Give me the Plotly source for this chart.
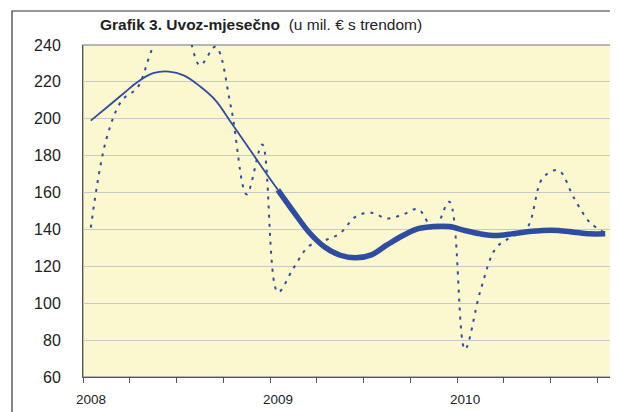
import plotly.graph_objects as go

# Months Jan 2008 .. Oct 2010 (34 monthly categories)
month_labels = [
    "2008-01", "2008-02", "2008-03", "2008-04", "2008-05", "2008-06",
    "2008-07", "2008-08", "2008-09", "2008-10", "2008-11", "2008-12",
    "2009-01", "2009-02", "2009-03", "2009-04", "2009-05", "2009-06",
    "2009-07", "2009-08", "2009-09", "2009-10", "2009-11", "2009-12",
    "2010-01", "2010-02", "2010-03", "2010-04", "2010-05", "2010-06",
    "2010-07", "2010-08", "2010-09", "2010-10",
]

# Monthly imports (mil. EUR), dotted series
imports = [141, 189, 210, 217, 239, 252, 250, 229, 239, 206, 159, 186,
           106, 119, 131, 134, 138, 147, 149, 146, 148, 151, 140, 155,
           75, 107, 130, 136, 141, 168, 172, 157, 144, 138]

# Trend, 2008 part (thin line) Jan 2008 .. Jan 2009
trend_2008 = [199, 206, 213, 220, 224.7, 225.6, 223.4, 217.6, 210, 198, 185.8, 173.5, 161.5]
# Trend, from Jan 2009 (thick line) Jan 2009 .. Oct 2010
trend_later = [161.5, 149.7, 138.5, 130.5, 126, 124.6, 126.2, 131.6, 136.6, 140.4, 141.6,
               141.6, 139.4, 137.6, 136.7, 137.6, 138.7, 139.4, 139.4, 138.5, 137.6, 137.6]

year_labels = {"2008-01": "2008", "2009-01": "2009", "2010-01": "2010"}

n = len(month_labels)
x_all = list(range(n))
x_thin = x_all[:len(trend_2008)]
x_thick = x_all[n - len(trend_later):]

# ticks on category boundaries every 3 months
tick_pos = [i - 0.5 for i in range(0, n, 3)]
tick_txt = [year_labels.get(month_labels[i], "") for i in range(0, n, 3)]

blue = "#2F4DA0"
font_family = "Liberation Sans, Arial, sans-serif"

# page body has an 8px margin, so the figure is sized to fill the rest
W, H = 610, 404
L, R, T, B = 75, 5, 37, 30
pw, ph = W - L - R, H - T - B

fig = go.Figure()
fig.add_trace(go.Scatter(
    x=x_all, y=imports, mode="lines",
    line=dict(color=blue, width=2, dash="3px,6px", shape="spline", smoothing=1),
    hoverinfo="skip", showlegend=False))
fig.add_trace(go.Scatter(
    x=x_thin, y=trend_2008, mode="lines",
    line=dict(color=blue, width=1.8, shape="spline", smoothing=1),
    showlegend=False))
fig.add_trace(go.Scatter(
    x=x_thick, y=trend_later, mode="lines",
    line=dict(color=blue, width=5.5, shape="spline", smoothing=1),
    showlegend=False))

fig.update_layout(
    width=W, height=H,
    margin=dict(l=L, r=R, t=T, b=B),
    paper_bgcolor="white",
    plot_bgcolor="#FBF7CF",
    font=dict(family=font_family, color="#222222"),
    title=dict(
        text="<b>Grafik 3. Uvoz-mjesečno</b>&nbsp;&nbsp;(u mil. € s trendom)",
        x=92 / W, xanchor="left", xref="container",
        y=1 - 17 / H, yanchor="middle", yref="container",
        font=dict(size=15.5, family=font_family, color="#222222"),
    ),
    xaxis=dict(
        range=[-0.5, n - 0.5],
        tickmode="array", tickvals=tick_pos, ticktext=tick_txt,
        ticks="outside", ticklen=5, tickcolor="#555555", tickwidth=1,
        ticklabelshift=8, ticklabelstandoff=5,
        tickfont=dict(size=13.5, family=font_family, color="#222222"),
        showgrid=False, zeroline=False,
        showline=True, linecolor="#555555", linewidth=1,
    ),
    yaxis=dict(
        range=[60, 240], tick0=60, dtick=20,
        ticks="", ticklabelstandoff=18,
        tickfont=dict(size=16, family=font_family, color="#222222"),
        showgrid=True, gridcolor="#C8C8C8", gridwidth=1,
        zeroline=False,
        showline=True, linecolor="#555555", linewidth=1,
    ),
    shapes=[
        dict(type="rect", xref="paper", yref="paper",
             x0=0, x1=1, y0=0, y1=1, layer="below",
             line=dict(color="#A0A0A0", width=1.5)),
        dict(type="rect", xref="paper", yref="paper",
             x0=(4 - L) / pw, x1=(W + 30 - L) / pw,
             y0=-60 / ph, y1=(ph + T - 2.5) / ph,
             line=dict(color="#333333", width=1.2)),
    ],
)

fig.write_html("out.html")
